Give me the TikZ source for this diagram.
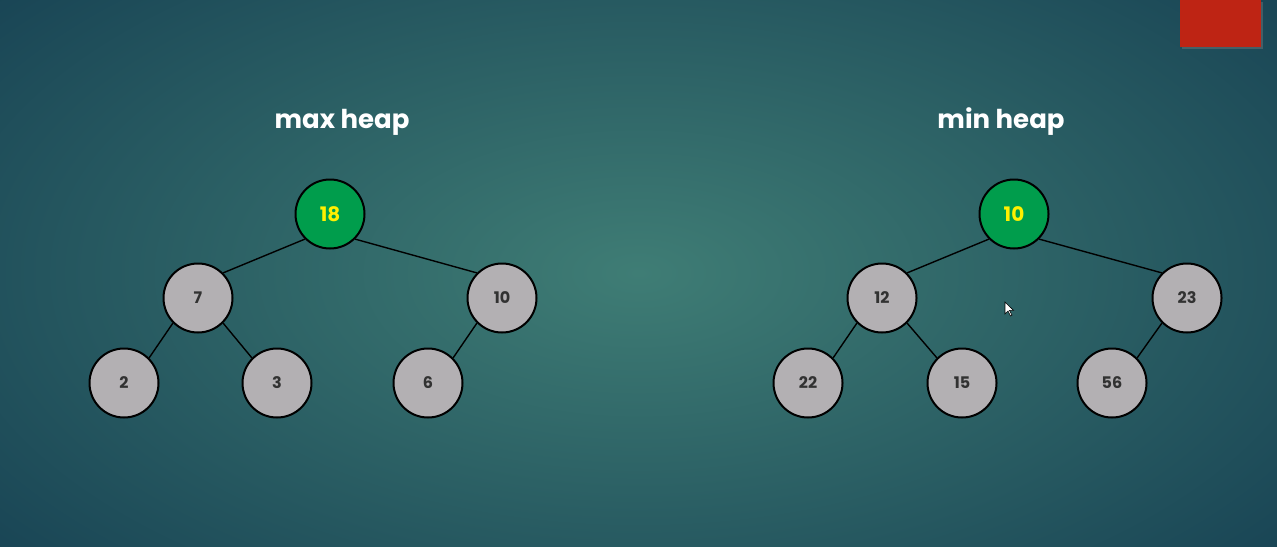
\documentclass[tikz,border=0pt]{standalone}
\usepackage{fontspec}
\setmainfont{Poppins}
\usepackage{tikz}
\usetikzlibrary{positioning, shadows}
\definecolor{bginner}{RGB}{63,125,117}
\definecolor{bgouter}{RGB}{19,60,80}
\definecolor{nodegrey}{RGB}{179,176,179}
\definecolor{rootgreen}{RGB}{0,157,76}
\definecolor{rootyellow}{RGB}{255,240,0}
\definecolor{labelgrey}{RGB}{50,50,50}
\definecolor{boxred}{RGB}{190,36,20}
\tikzset{
  heapnode/.style={circle, draw=black, line width=1pt, fill=nodegrey, minimum size=34.5pt, inner sep=0pt, font=\bfseries\fontsize{8}{9}\selectfont, text=labelgrey},
  rootnode/.style={heapnode, fill=rootgreen, text=rootyellow, font=\bfseries\fontsize{10}{11}\selectfont},
  heaptitle/.style={text=white, font=\bfseries\fontsize{13}{15}\selectfont},
  heapedge/.style={line width=0.7pt, black}
}
\begin{document}
\begin{tikzpicture}[x=0.5pt, y=-0.5pt] % 1 Einheit = 1 Pixel

% Hintergrund
\useasboundingbox (0,0) rectangle (1277,546);
\begin{scope}
  \clip (0,0) rectangle (1277,546);
  \shade[inner color=bginner, outer color=bgouter] (-330,-230) rectangle (1607,776);
\end{scope}

% rotes Feld oben rechts
\fill[boxred, drop shadow={shadow xshift=1pt, shadow yshift=-1pt, opacity=0.4}] (1180,0) rectangle (1261,47);

% Titel
\node[heaptitle] (maxtitle) at (342,122) {max heap};
\node[heaptitle] (mintitle) at (1001,122) {min heap};

% Knoten max heap
\node[rootnode] (mroot) at (330,214) {18};
\foreach \n/\x/\y/\t in {mleft/198/298/7, mright/502/298/10, mll/124/383/2, mlr/277/383/3, mrl/428/383/6}
  \node[heapnode] (\n) at (\x,\y) {\t};

% Knoten min heap
\node[rootnode] (nroot) at (1014,214) {10};
\foreach \n/\x/\y/\t in {nleft/882/298/12, nright/1187/298/23, nll/808/383/22, nlr/962/383/15, nrl/1112/383/56}
  \node[heapnode] (\n) at (\x,\y) {\t};

% Kanten
\foreach \p/\c in {mroot/mleft, mleft/mll, mright/mrl, nroot/nleft, nleft/nll, nright/nrl}
  \draw[heapedge] (\p.south west) -- (\c.north east);
\foreach \p/\c in {mroot/mright, mleft/mlr, nroot/nright, nleft/nlr}
  \draw[heapedge] (\p.south east) -- (\c.north west);

% Mauszeiger
\coordinate (cursor) at (1005,302);
\filldraw[fill=white, draw=black, line width=0.3pt] (cursor) -- ++(0,12) -- ++(3,-3) -- ++(2.5,5) -- ++(1.5,-0.8) -- ++(-2.5,-4.8) -- ++(4,0) -- cycle;

\end{tikzpicture}
\end{document}
